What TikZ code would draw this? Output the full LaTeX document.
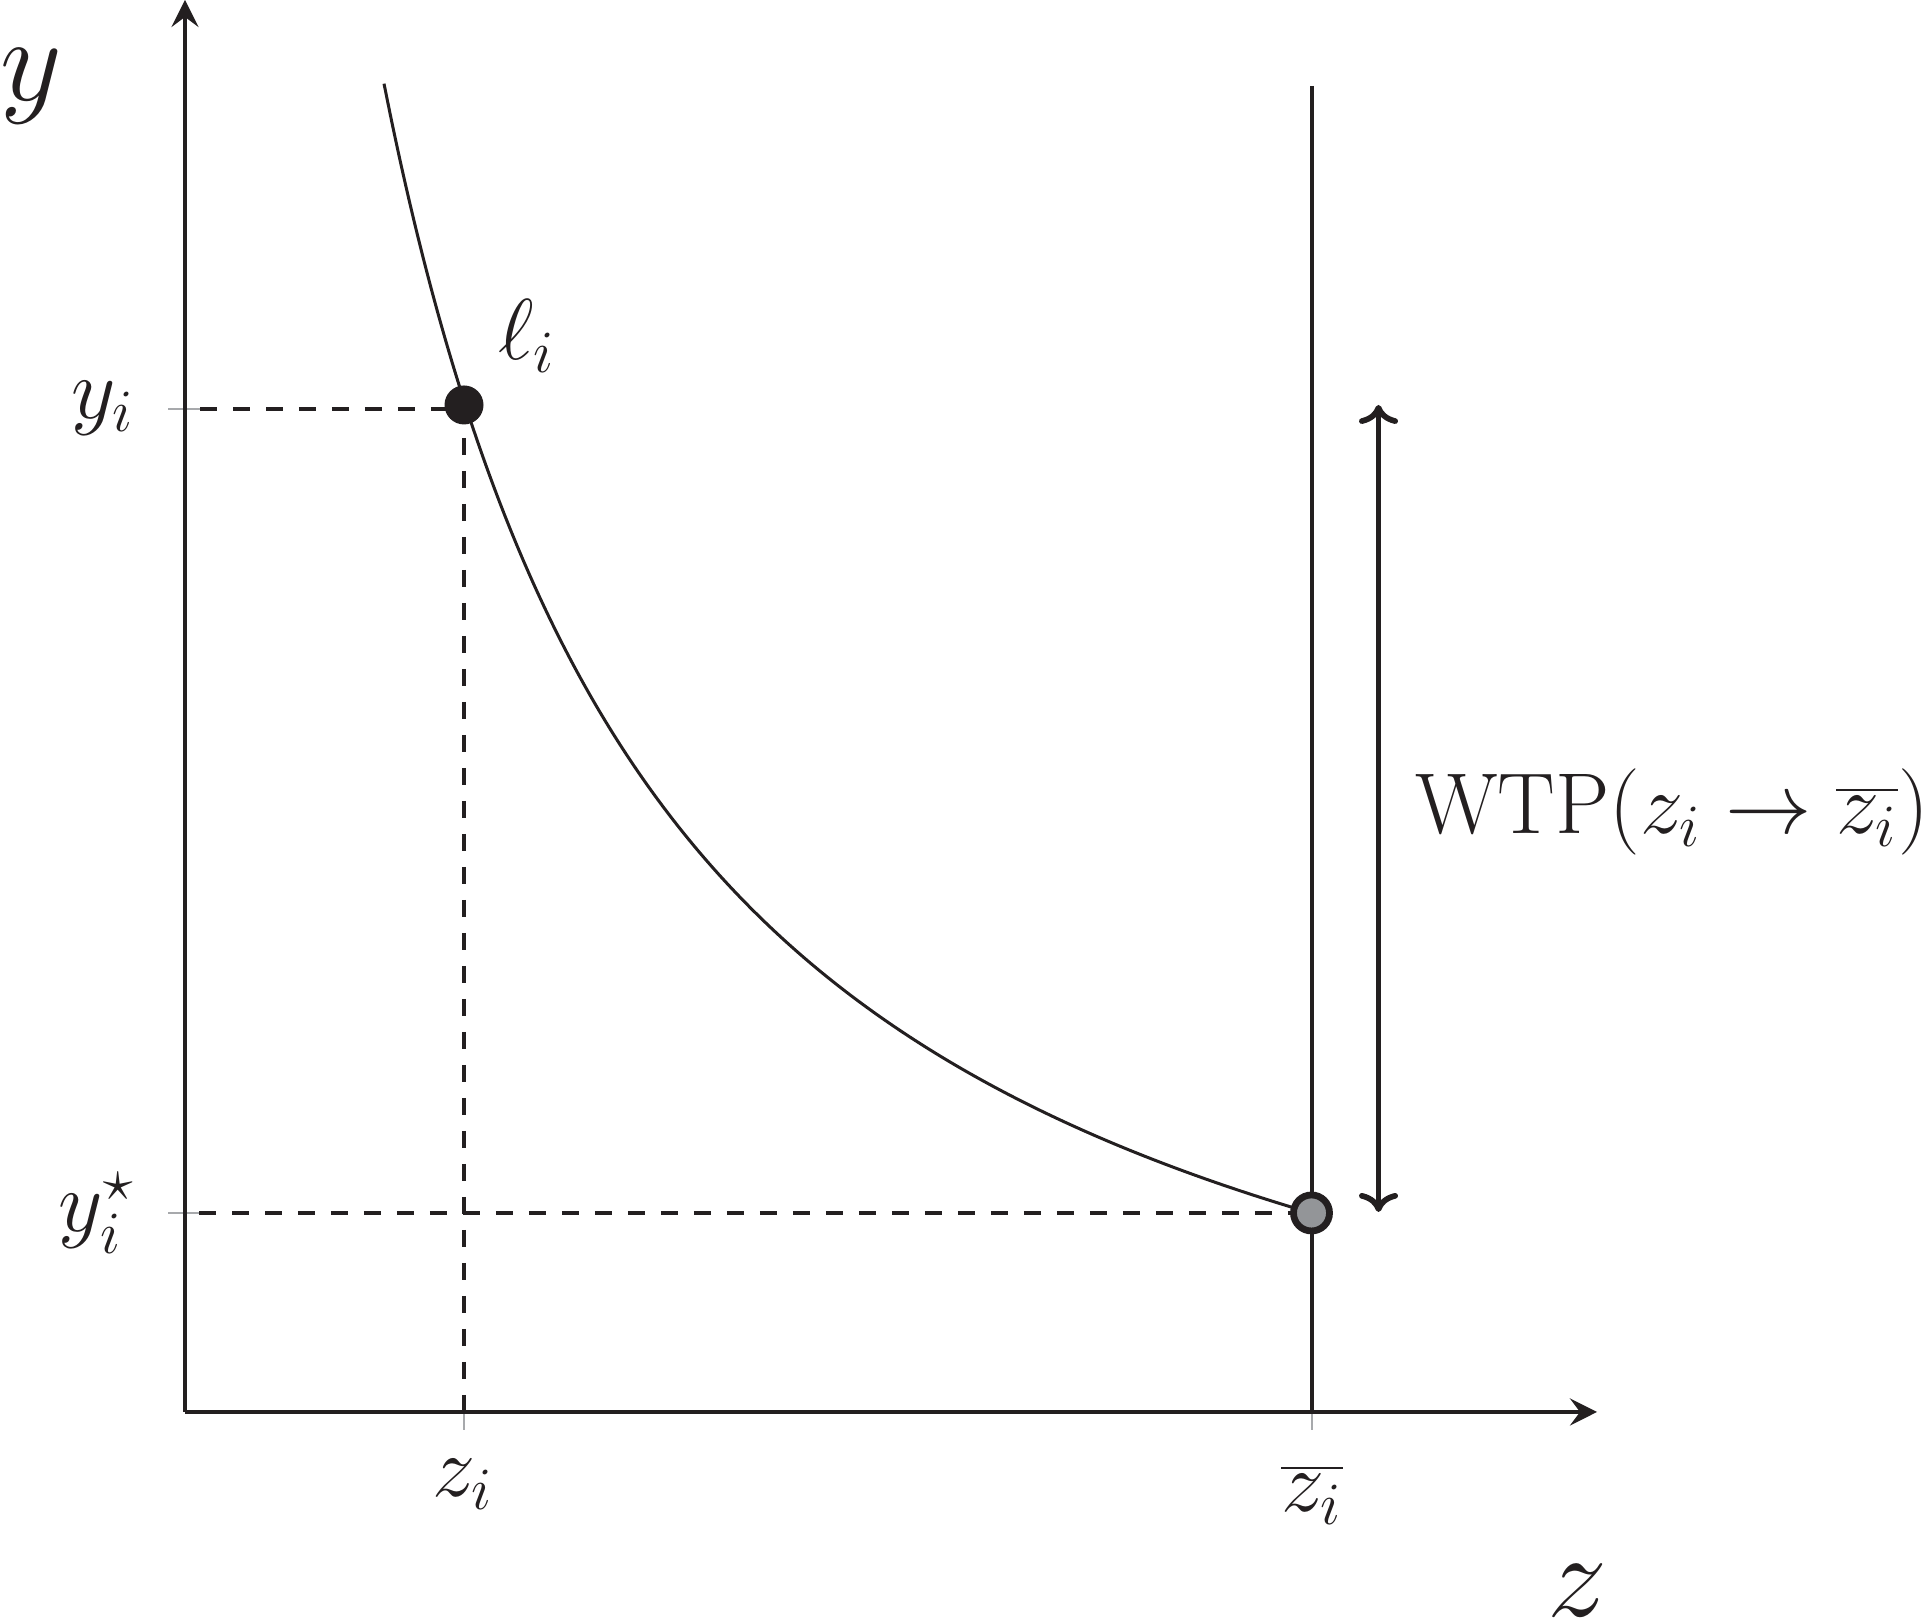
\documentclass[tikz,border=0pt]{standalone}
\usepackage{graphicx}
\usetikzlibrary{arrows.meta}
\definecolor{ink}{HTML}{231F20}
\definecolor{dotgray}{HTML}{939598}
\definecolor{tickgray}{HTML}{A7A9AC}
\newcommand{\smlab}[1]{\scalebox{0.5}{\fontsize{17.28}{20}\selectfont #1}}
\begin{document}
\begin{tikzpicture}[x=0.1pt,y=-0.1pt,
  axis/.style={draw=ink, line width=0.4pt, -{Stealth[length=2.7pt,width=2.7pt,inset=1pt]}},
  tickline/.style={draw=tickgray, line width=0.2pt},
  guide/.style={draw=ink, line width=0.35pt, dash pattern=on 1.7pt off 1.6pt},
  curveline/.style={draw=ink, line width=0.3pt},
  barline/.style={draw=ink, line width=0.4pt},
  wtparrow/.style={draw=ink, line width=0.57pt,
    {Computer Modern Rightarrow[length=1.9pt,width=3.9pt]}-{Computer Modern Rightarrow[length=1.9pt,width=3.9pt]}},
  lbl/.style={inner sep=0pt, text=ink},
  axlbl/.style={inner sep=0pt, text=ink, font=\fontsize{12.2}{14}\selectfont},
  bigdot/.style={circle, fill=ink, inner sep=0pt, minimum size=3.9pt},
  graydot/.style={circle, fill=dotgray, draw=ink, line width=0.68pt, inner sep=0pt, minimum size=3.6pt}
]
\useasboundingbox (0,0) rectangle (1929,1619);

% key points
\coordinate (O) at (185,1412);
\coordinate (ytop) at (185,0);
\coordinate (xend) at (1597,1412);
\coordinate (lipt) at (464,405);
\coordinate (barpt) at (1311.5,1213);
\coordinate (bartop) at (1311.5,86);
\coordinate (barbase) at (1311.5,1412);
\coordinate (yistart) at (200,409);
\coordinate (yisstart) at (199,1213);
\coordinate (zibase) at (464,1412);
\coordinate (wtptop) at (1378.5,405);
\coordinate (wtpbot) at (1378.5,1212);

% gray ticks
\draw[tickline] (168,409) -- (200,409);
\draw[tickline] (168,1213) -- (199,1213);
\draw[tickline] (464,1395) -- (464,1430);
\draw[tickline] (1311.5,1412) -- (1311.5,1430);

% dashed guides
\draw[guide] (yistart) -- (yistart -| lipt);
\draw[guide] (lipt) -- (zibase);
\draw[guide] (yisstart) -- (barpt);

% axes
\draw[axis] (O) -- (ytop);
\draw[axis] (O) -- (xend);

% vertical line at z-bar
\draw[barline] (bartop) -- (barbase);

% curve
\draw[curveline] plot[domain=1.99:11.265, samples=120, smooth]
  ({185+100*\x},{1412-100*(44.1/(\x+0.97)-1.616)});

% WTP arrow
\draw[wtparrow] (wtptop) -- (wtpbot);

% points
\node[bigdot] (li) at (lipt) {};
\node[graydot] (bar) at (barpt) {};

% labels
\node[axlbl, anchor=base west] (ylab) at (-2,101) {$y$};
\node[axlbl, anchor=base] (zlab) at (1577,1617) {$z$};
\node[lbl, anchor=base east] (yilab) at (137,419) {\smlab{$y_i$}};
\node[lbl, anchor=base east] (yislab) at (137,1232) {\smlab{$y_i^\star$}};
\node[lbl, anchor=base] (zilab) at (463,1497) {\smlab{$z_i$}};
\node[lbl, anchor=base] (zbarlab) at (1312,1512) {\smlab{$\overline{z_i}$}};
\node[lbl, anchor=base west] (lilab) at (496,360) {\smlab{$\ell_i$}};
\node[lbl, anchor=base west] (wtplab) at (1413,834) {\smlab{$\mathrm{WTP}(z_i \to \overline{z_i})$}};
\end{tikzpicture}
\end{document}
